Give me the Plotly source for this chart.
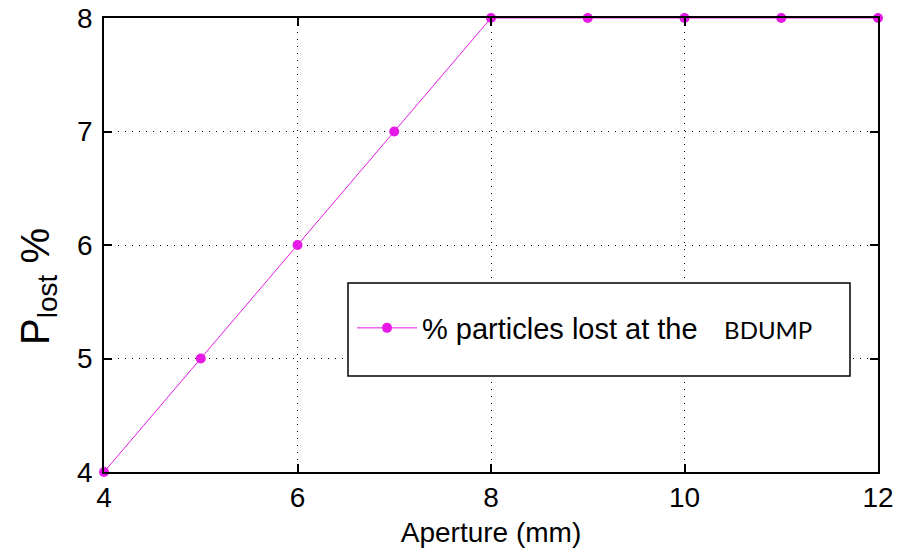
import plotly.graph_objects as go

# Aperture scan: share of particles lost at the beam dump
aperture_mm = [4, 5, 6, 7, 8, 9, 10, 11, 12]
p_lost_pct = [4, 5, 6, 7, 8, 8, 8, 8, 8]

x_ticks = [4, 6, 8, 10, 12]
y_ticks = [4, 5, 6, 7, 8]

magenta = "#e619e6"
font_main = "Liberation Sans, Arial, sans-serif"

fig = go.Figure()
fig.add_trace(go.Scatter(
    x=aperture_mm, y=p_lost_pct,
    mode="lines+markers",
    line=dict(color=magenta, width=1),
    marker=dict(color=magenta, size=10),
    name='% particles lost at the <span style="font-family:Lato;font-size:24px">   BDUMP</span>',
    cliponaxis=False,
    showlegend=True,
))

axis_common = dict(
    showline=True, linecolor="black", linewidth=1.5,
    mirror="allticks", ticks="inside", ticklen=8, tickwidth=1.5, tickcolor="black",
    showgrid=True, gridcolor="black", gridwidth=1, griddash="1px,6px",
    zeroline=False, automargin=False,
    tickfont=dict(family=font_main, size=28, color="black"),
)

fig.update_xaxes(range=[4, 12], tickvals=x_ticks, ticktext=[str(v) for v in x_ticks],
                 title=dict(text="Aperture (mm)", font=dict(family=font_main, size=28, color="black"),
                            standoff=10),
                 **axis_common)
fig.update_yaxes(range=[4, 8], tickvals=y_ticks, ticktext=[str(v) for v in y_ticks],
                 ticklabelstandoff=4,
                 **axis_common)

# Legend frame
fig.add_shape(type="rect", xref="paper", yref="paper",
              x0=(348 - 104) / 774, x1=(850 - 104) / 774,
              y0=(472 - 376) / 454, y1=(472 - 283) / 454,
              line=dict(color="black", width=1.5), fillcolor="white", layer="above")

# Y-axis title with subscript
fig.add_annotation(text="P<sub>lost</sub> %", xref="paper", yref="paper",
                   x=(38 - 104) / 774, y=(472 - 287) / 454,
                   xanchor="center", yanchor="middle", textangle=-90, showarrow=False,
                   font=dict(family=font_main, size=40, color="black"))

fig.update_layout(
    width=906, height=551,
    margin=dict(l=104, r=28, t=18, b=79),
    paper_bgcolor="white", plot_bgcolor="white",
    showlegend=True,
    legend=dict(x=(352 - 104) / 774, y=(472 - 328) / 454, xanchor="left", yanchor="middle",
                bgcolor="rgba(0,0,0,0)", borderwidth=0, itemwidth=60,
                font=dict(family=font_main, size=29, color="black")),
)

fig.write_html("out.html")
